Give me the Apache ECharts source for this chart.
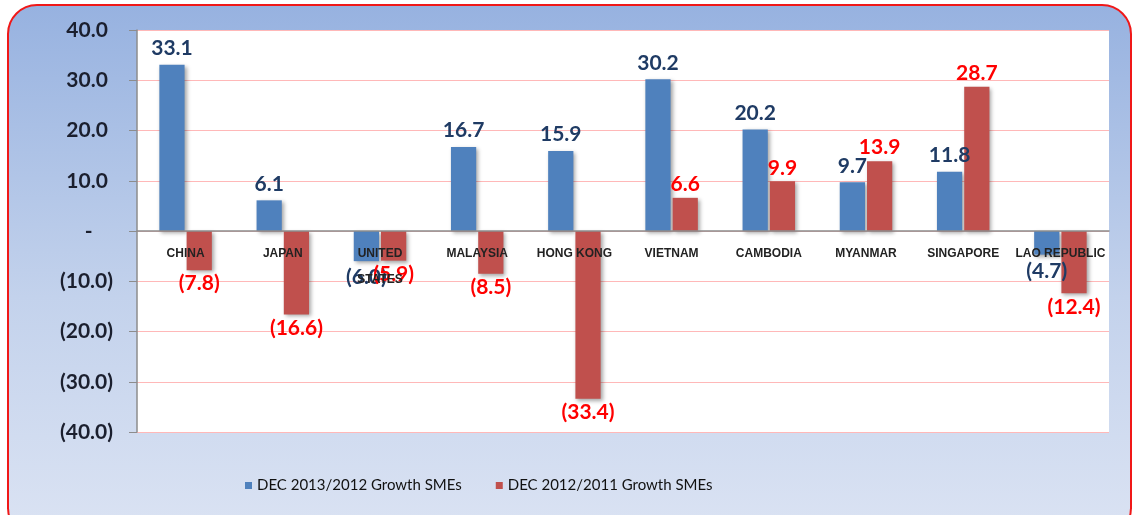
<!DOCTYPE html>
<html>
<head>
<meta charset="utf-8">
<script src="https://cdn.jsdelivr.net/npm/echarts@6/dist/echarts.min.js"></script>
<style>
  html, body { margin: 0; padding: 0; background: #fff; }
  #frame {
    position: absolute; left: 7px; top: 4px; width: 1121px; height: 530px;
    border: 2px solid #f01818; border-radius: 30px;
    background: linear-gradient(to bottom, #97b2e0 0%, #c3d2ec 55%, #dbe3f3 100%);
  }
  #main { position: absolute; left: 0; top: 0; width: 1134px; height: 515px; }
</style>
</head>
<body>
<div id="frame"></div>
<div id="main"></div>
<script>
const categories = ['CHINA', 'JAPAN', 'UNITED\nSTATES', 'MALAYSIA', 'HONG KONG', 'VIETNAM', 'CAMBODIA', 'MYANMAR', 'SINGAPORE', 'LAO REPUBLIC'];
const seriesNames = ['DEC 2013/2012 Growth SMEs', 'DEC 2012/2011 Growth SMEs'];
const growth2013 = [33.1, 6.1, -6.0, 16.7, 15.9, 30.2, 20.2, 9.7, 11.8, -4.7];
const growth2012 = [-7.8, -16.6, -5.9, -8.5, -33.4, 6.6, 9.9, 13.9, 28.7, -12.4];

function acct(v) {
  if (v === 0) return '-';
  return v < 0 ? '(' + Math.abs(v).toFixed(1) + ')' : v.toFixed(1);
}

function toItems(values) {
  return values.map(v => ({
    value: v,
    label: { position: v < 0 ? 'bottom' : 'top' }
  }));
}

const shadow = { shadowBlur: 4, shadowColor: 'rgba(0,0,0,0.35)', shadowOffsetX: 2, shadowOffsetY: 2 };

const chart = echarts.init(document.getElementById('main'));
chart.setOption({
  animation: false,
  backgroundColor: 'transparent',
  grid: { left: 137, right: 25, top: 30, bottom: 83, show: true, backgroundColor: '#fff', borderWidth: 0 },
  legend: {
    left: 240, top: 473,
    itemWidth: 7, itemHeight: 7, itemGap: 34,
    icon: 'rect',
    textStyle: { fontFamily: 'Lato', fontSize: 15, color: '#111' },
    data: seriesNames
  },
  xAxis: {
    type: 'category',
    data: categories,
    offset: -201,
    axisLine: { onZero: false, lineStyle: { color: '#8c8c8c', width: 1.5 } },
    axisTick: { length: 6, lineStyle: { color: '#8c8c8c' } },
    axisLabel: {
      interval: 0, margin: 10, lineHeight: 26,
      fontFamily: 'Arial', fontWeight: 'bold', fontSize: 12, color: '#222'
    },
    z: 5
  },
  yAxis: {
    type: 'value',
    min: -40, max: 40, interval: 10,
    axisLine: { show: true, onZero: false, lineStyle: { color: '#8c8c8c', width: 1.5 } },
    axisTick: { show: true, length: 8, lineStyle: { color: '#8c8c8c' } },
    splitLine: { lineStyle: { color: '#ffb8b8', width: 1 } },
    axisLabel: {
      margin: 24,
      formatter: v => v === 0 ? '-    ' : (v > 0 ? acct(v) + ' ' : acct(v)),
      fontFamily: 'Lato', fontWeight: 'bold', fontSize: 21, color: '#1b1f2e'
    }
  },
  series: [
    {
      name: seriesNames[0], type: 'bar',
      data: toItems(growth2013),
      barGap: '8%', barCategoryGap: '46%',
      itemStyle: Object.assign({ color: '#4f81bd' }, shadow),
      label: {
        show: true, distance: 6, formatter: p => acct(p.value),
        fontFamily: 'Lato', fontWeight: 'bold', fontSize: 21, color: '#1f3b64'
      }
    },
    {
      name: seriesNames[1], type: 'bar',
      data: toItems(growth2012),
      barGap: '8%', barCategoryGap: '46%',
      itemStyle: Object.assign({ color: '#c0504d' }, shadow),
      label: {
        show: true, distance: 3, formatter: p => acct(p.value),
        fontFamily: 'Lato', fontWeight: 'bold', fontSize: 21, color: '#ff0000'
      }
    }
  ]
});
</script>
</body>
</html>
